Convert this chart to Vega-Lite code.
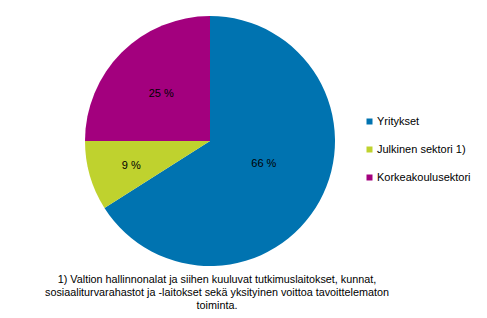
{
  "$schema": "https://vega.github.io/schema/vega-lite/v6.json",
  "width": 250,
  "height": 250,
  "autosize": {"type": "none"},
  "padding": {"left": 85, "top": 16, "right": 152, "bottom": 52},
  "background": "white",
  "config": {
    "view": {"stroke": null},
    "font": "Liberation Sans"
  },
  "title": {
    "text": ["1)  Valtion hallinnonalat ja siihen kuuluvat tutkimuslaitokset, kunnat,", "sosiaaliturvarahastot ja -laitokset sekä yksityinen voittoa tavoittelematon", "toiminta."],
    "orient": "bottom",
    "anchor": "middle",
    "align": "center",
    "font": "Liberation Sans",
    "fontSize": 10.8,
    "fontWeight": "normal",
    "color": "black",
    "baseline": "top",
    "offset": 8,
    "dx": 7,
    "lineHeight": 13
  },
  "data": {
    "values": [
      {"category": "Yritykset", "value": 66, "order": 1, "label": "66 %"},
      {"category": "Julkinen sektori 1)", "value": 9, "order": 2, "label": "9 %"},
      {"category": "Korkeakoulusektori", "value": 25, "order": 3, "label": "25 %"}
    ]
  },
  "encoding": {
    "theta": {"field": "value", "type": "quantitative", "stack": true},
    "order": {"field": "order", "type": "quantitative"}
  },
  "layer": [
    {
      "mark": {"type": "arc", "outerRadius": 125},
      "encoding": {
        "color": {
          "field": "category",
          "type": "nominal",
          "sort": ["Yritykset", "Julkinen sektori 1)", "Korkeakoulusektori"],
          "scale": {
            "domain": ["Yritykset", "Julkinen sektori 1)", "Korkeakoulusektori"],
            "range": ["#0073B0", "#BFD22E", "#A3007E"]
          },
          "legend": {
            "title": null,
            "orient": "none",
            "legendX": 279,
            "legendY": 100,
            "symbolType": "square",
            "symbolSize": 36,
            "symbolStrokeWidth": 0,
            "labelFont": "Liberation Sans",
            "labelFontSize": 11,
            "labelColor": "black",
            "labelOffset": 2,
            "rowPadding": 16,
            "labelLimit": 200
          }
        }
      }
    },
    {
      "mark": {"type": "text", "radius": 58, "dx": 3, "dy": -5, "font": "Liberation Sans", "fontSize": 11, "color": "black"},
      "encoding": {
        "detail": {"field": "category", "type": "nominal"},
        "text": {"condition": {"test": "datum.category === 'Yritykset'", "field": "label"}, "value": ""}
      }
    },
    {
      "mark": {"type": "text", "radius": 82, "dy": 2, "font": "Liberation Sans", "fontSize": 11, "color": "black"},
      "encoding": {
        "detail": {"field": "category", "type": "nominal"},
        "text": {"condition": {"test": "datum.category === 'Julkinen sektori 1)'", "field": "label"}, "value": ""}
      }
    },
    {
      "mark": {"type": "text", "radius": 69, "dy": 2, "font": "Liberation Sans", "fontSize": 11, "color": "black"},
      "encoding": {
        "detail": {"field": "category", "type": "nominal"},
        "text": {"condition": {"test": "datum.category === 'Korkeakoulusektori'", "field": "label"}, "value": ""}
      }
    }
  ]
}
